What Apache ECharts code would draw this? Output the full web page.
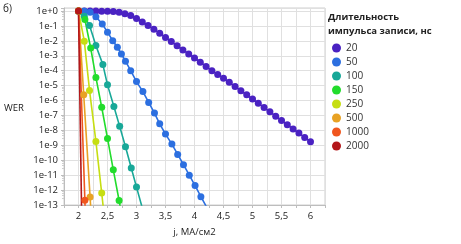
<!DOCTYPE html>
<html>
<head>
<meta charset="utf-8">
<script src="https://cdn.jsdelivr.net/npm/echarts@6/dist/echarts.min.js"></script>
<style>
html,body{margin:0;padding:0;background:#fff;}
#chart{width:461px;height:244px;}
</style>
</head>
<body>
<div id="chart"></div>
<script>
// Legend names (pulse duration, ns)
const durations = ['20', '50', '100', '150', '250', '500', '1000', '2000'];
const colors = ['#4a22c2', '#2c6fe0', '#18a898', '#22dc2c', '#c6de12', '#e8a224', '#f0561e', '#b3171a'];

// Current density j (MA/cm2) and -log10(WER)
const j20 = [2.0,2.1,2.2,2.3,2.4,2.5,2.6,2.7,2.8,2.9,3.0,3.1,3.2,3.3,3.4,3.5,3.6,3.7,3.8,3.9,4.0,4.1,4.2,4.3,4.4,4.5,4.6,4.7,4.8,4.9,5.0,5.1,5.2,5.3,5.4,5.5,5.6,5.7,5.8,5.9,6.0];
const e20 = [0,0,0,0,0.01,0.02,0.04,0.09,0.19,0.31,0.5,0.73,0.97,1.22,1.49,1.77,2.05,2.33,2.61,2.88,3.15,3.43,3.72,4.0,4.25,4.5,4.78,5.06,5.34,5.62,5.9,6.18,6.47,6.76,7.05,7.33,7.62,7.9,8.18,8.47,8.76];

const j50 = [2.0,2.1,2.2,2.3,2.41,2.5,2.59,2.67,2.74,2.81,2.9,3.0,3.11,3.21,3.31,3.4,3.5,3.61,3.71,3.81,3.91,4.01,4.11,4.21];
const e50 = [0,0.01,0.08,0.38,0.87,1.42,1.99,2.43,2.88,3.36,4.0,4.73,5.4,6.13,6.84,7.56,8.25,8.92,9.61,10.3,11.0,11.7,12.44,13.15];

const j100 = [2.0,2.1,2.19,2.3,2.42,2.5,2.61,2.71,2.81,2.91,3.0,3.1];
const e100 = [0.02,0.35,0.98,2.32,3.59,4.95,6.4,7.73,9.1,10.52,11.8,13.2];

const j150 = [2.0,2.11,2.21,2.3,2.4,2.5,2.6,2.7,2.8];
const e150 = [0,0.57,2.48,4.45,6.45,8.54,10.64,12.7,14.8];

const j250 = [2.0,2.1,2.19,2.3,2.4,2.5];
const e250 = [0,2.02,5.32,8.74,12.2,15.7];

const j500 = [2.0,2.09,2.2,2.3];
const e500 = [0,5.62,12.46,19.3];

const j1000 = [2.0,2.11,2.2];
const e1000 = [0,12.69,24];

const j2000 = [2.0,2.1];
const e2000 = [0,25];

const xTicks = ['2','2,5','3','3,5','4','4,5','5','5,5','6'];

const jAll = [j20,j50,j100,j150,j250,j500,j1000,j2000];
const eAll = [e20,e50,e100,e150,e250,e500,e1000,e2000];

const FONT = '"Open Sans", "Noto Sans", sans-serif';

const series = durations.map((d, i) => ({
  name: d,
  type: 'line',
  data: jAll[i].map((x, k) => [x, Math.pow(10, -eAll[i][k])]),
  symbol: 'circle',
  symbolSize: 7,
  clip: true,
  lineStyle: { color: colors[i], width: 1.6 },
  itemStyle: { color: colors[i] },
  emphasis: { disabled: true },
  animation: false
}));

const chart = echarts.init(document.getElementById('chart'), null, { renderer: 'canvas' });
chart.setOption({
  animation: false,
  grid: { left: 64, right: 136, top: 8, bottom: 39, show: true, borderColor: '#cfcfcf', borderWidth: 1 },
  xAxis: {
    type: 'value',
    min: 1.75, max: 6.25, interval: 0.25,
    name: 'j, MA/см2',
    nameLocation: 'middle',
    nameGap: 22,
    nameTextStyle: { fontFamily: FONT, fontSize: 9.5, color: '#222' },
    axisLine: { show: true, lineStyle: { color: '#bdbdbd' } },
    axisTick: { show: true, length: 3, lineStyle: { color: '#bdbdbd' } },
    splitLine: { show: true, lineStyle: { color: '#e0e0e0', width: 1 } },
    axisLabel: {
      fontFamily: FONT, fontSize: 9.5, color: '#222', margin: 6,
      showMinLabel: true, showMaxLabel: true,
      formatter: v => {
        const k = Math.round((v - 2) * 2);
        if (Math.abs((v - 2) * 2 - k) > 1e-6 || k < 0 || k >= xTicks.length) return '';
        return xTicks[k];
      }
    }
  },
  yAxis: {
    type: 'log',
    logBase: 10,
    min: 1e-13, max: 1.585,
    interval: 1,
    axisLine: { show: true, lineStyle: { color: '#bdbdbd' } },
    axisTick: { show: true, length: 3, lineStyle: { color: '#bdbdbd' } },
    minorTick: { show: true, splitNumber: 5, length: 2, lineStyle: { color: '#cfcfcf' } },
    splitLine: { show: true, lineStyle: { color: '#e0e0e0', width: 1 } },
    axisLabel: {
      fontFamily: FONT, fontSize: 9.5, color: '#222', margin: 6,
      formatter: v => {
        const l = Math.log10(v);
        const r = Math.round(l);
        if (Math.abs(l - r) > 0.01) return '';
        return '1e' + (r >= 0 ? '+' : '') + r;
      }
    }
  },
  legend: {
    orient: 'vertical',
    left: 327, top: 36,
    icon: 'circle',
    itemWidth: 9, itemHeight: 9,
    itemGap: 0,
    selectedMode: false,
    textStyle: { fontFamily: FONT, fontSize: 10, color: '#333', lineHeight: 14 },
    data: durations
  },
  graphic: [
    { type: 'text', x: 3, y: 9, style: { text: 'б)', font: '10px ' + FONT, fill: '#222', verticalAlign: 'middle' } },
    { type: 'text', x: 14, y: 108, style: { text: 'WER', font: '9.5px ' + FONT, fill: '#222', align: 'center', verticalAlign: 'middle' } },
    { type: 'text', x: 328, y: 17, style: { text: 'Длительность', font: 'bold 9.5px ' + FONT, fill: '#222', verticalAlign: 'middle' } },
    { type: 'text', x: 328, y: 31, style: { text: 'импульса записи, нс', font: 'bold 9.5px ' + FONT, fill: '#222', verticalAlign: 'middle' } }
  ],
  series: series
});
</script>
</body>
</html>
